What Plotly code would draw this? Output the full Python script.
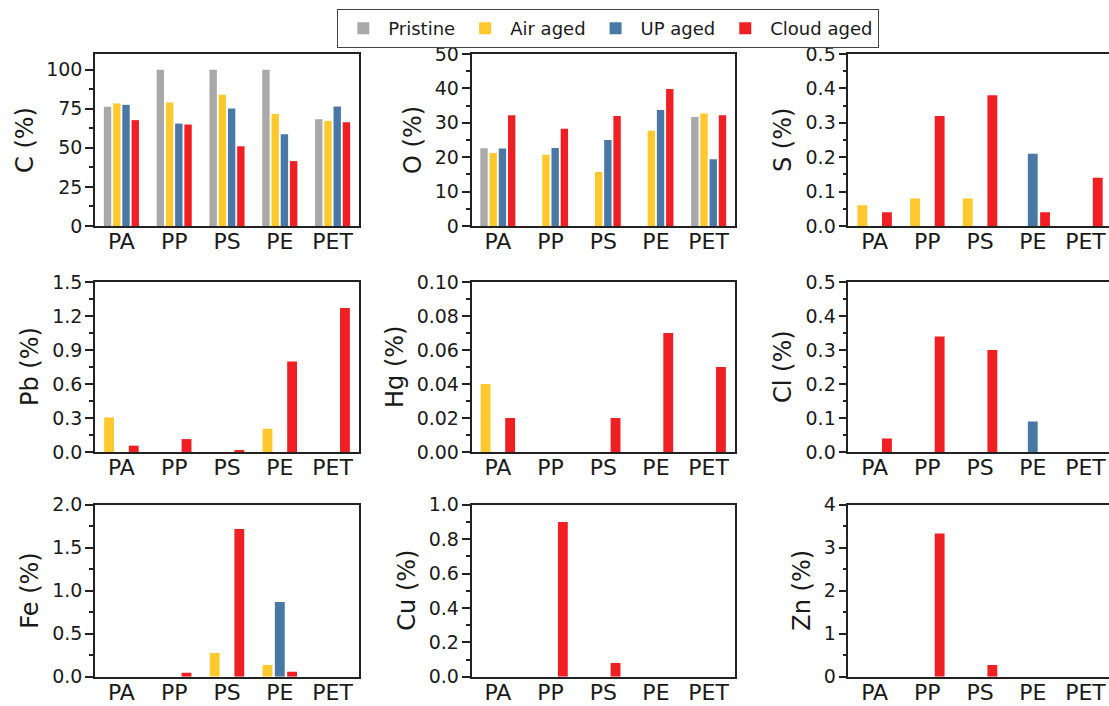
import plotly.graph_objects as go

# ---------------- data ----------------
categories = ["PA", "PP", "PS", "PE", "PET"]
series_names = ["Pristine", "Air aged", "UP aged", "Cloud aged"]
series_colors = ["#A9A9A9", "#FFC92E", "#4A78A6", "#EF1F24"]

# C and O: four series (Pristine, Air, UP, Cloud)
C_pristine = [76.2, 100.0, 100.0, 100.0, 68.3]
C_air = [78.4, 79.0, 83.9, 71.7, 67.2]
C_up = [77.5, 65.5, 75.2, 58.7, 76.4]
C_cloud = [67.7, 64.9, 51.0, 41.5, 66.4]

O_pristine = [22.6, 0, 0, 0, 31.7]
O_air = [21.2, 20.7, 15.7, 27.7, 32.7]
O_up = [22.5, 22.7, 25.0, 33.7, 19.4]
O_cloud = [32.2, 28.3, 32.0, 39.8, 32.2]

# trace elements: three series (Air, UP, Cloud)
S_air = [0.06, 0.08, 0.08, 0, 0]
S_up = [0, 0, 0, 0.21, 0]
S_cloud = [0.04, 0.32, 0.38, 0.04, 0.14]

Pb_air = [0.305, 0, 0, 0.205, 0]
Pb_up = [0, 0, 0, 0, 0]
Pb_cloud = [0.056, 0.114, 0.01, 0.798, 1.27]

Hg_air = [0.04, 0, 0, 0, 0]
Hg_up = [0, 0, 0, 0, 0]
Hg_cloud = [0.02, 0, 0.02, 0.07, 0.05]

Cl_air = [0, 0, 0, 0, 0]
Cl_up = [0, 0, 0, 0.09, 0]
Cl_cloud = [0.04, 0.34, 0.30, 0, 0]

Fe_air = [0, 0, 0.275, 0.136, 0]
Fe_up = [0, 0, 0, 0.868, 0]
Fe_cloud = [0, 0.047, 1.717, 0.058, 0]

Cu_air = [0, 0, 0, 0, 0]
Cu_up = [0, 0, 0, 0, 0]
Cu_cloud = [0, 0.90, 0.08, 0, 0]

Zn_air = [0, 0, 0, 0, 0]
Zn_up = [0, 0, 0, 0, 0]
Zn_cloud = [0, 3.33, 0.27, 0, 0]

panels = [
    ("C (%)", [C_pristine, C_air, C_up, C_cloud], [0, 1, 2, 3], 110, 25, ""),
    ("O (%)", [O_pristine, O_air, O_up, O_cloud], [0, 1, 2, 3], 50, 10, ""),
    ("S (%)", [S_air, S_up, S_cloud], [1, 2, 3], 0.5, 0.1, ".1f"),
    ("Pb (%)", [Pb_air, Pb_up, Pb_cloud], [1, 2, 3], 1.5, 0.3, ".1f"),
    ("Hg (%)", [Hg_air, Hg_up, Hg_cloud], [1, 2, 3], 0.10, 0.02, ".2f"),
    ("Cl (%)", [Cl_air, Cl_up, Cl_cloud], [1, 2, 3], 0.5, 0.1, ".1f"),
    ("Fe (%)", [Fe_air, Fe_up, Fe_cloud], [1, 2, 3], 2.0, 0.5, ".1f"),
    ("Cu (%)", [Cu_air, Cu_up, Cu_cloud], [1, 2, 3], 1.0, 0.2, ".1f"),
    ("Zn (%)", [Zn_air, Zn_up, Zn_cloud], [1, 2, 3], 4, 1, ""),
]

# ---------------- layout geometry ----------------
W, H = 1109, 706
col_px = [(95, 359), (471.5, 735), (848.3, 1109)]
row_px = [(54, 226), (282, 452), (504.7, 676.7)]
title_x_px = [25, 413, 783, 30, 395, 783, 30, 407, 802]

FONT = "DejaVu Sans"
INK = "#1a1a1a"

fig = go.Figure()
layout = dict(
    width=W, height=H, margin=dict(l=0, r=0, t=0, b=0, autoexpand=False),
    paper_bgcolor="white", plot_bgcolor="white",
    barmode="group", bargap=0.3, bargroupgap=0.2,
    font=dict(family=FONT, color=INK),
    showlegend=True,
    legend=dict(
        orientation="h", xref="container", yref="container",
        x=337.3 / W, xanchor="left", y=1 - 9 / H, yanchor="top",
        bordercolor="#444", borderwidth=1, bgcolor="rgba(255,255,255,0)",
        font=dict(size=18, family=FONT, color=INK), itemwidth=40,
        traceorder="normal", tracegroupgap=0,
    ),
    annotations=[],
)

for i, (title, ys, sidx, top, dtick, fmt) in enumerate(panels):
    r, c = divmod(i, 3)
    n = i + 1
    xa = "x" if n == 1 else f"x{n}"
    ya = "y" if n == 1 else f"y{n}"
    for vals, s in zip(ys, sidx):
        fig.add_trace(go.Bar(
            x=categories, y=vals, name=series_names[s],
            marker=dict(color=series_colors[s], line=dict(width=0)),
            xaxis=xa, yaxis=ya, legendgroup=series_names[s],
            showlegend=(i == 0),
        ))
    x0, x1 = col_px[c]
    yt, yb = row_px[r]
    last_col = c == 2
    xr_hi = 4.5 if not last_col else -0.5 + (x1 - x0) / ((735 - 471.5) / 5)
    layout["xaxis" if n == 1 else f"xaxis{n}"] = dict(
        domain=[x0 / W, min(x1 / W, 1.0)], anchor=ya,
        type="category", range=[-0.5, xr_hi],
        showline=True, linecolor="#222", linewidth=1.5, mirror=True,
        ticks="", showgrid=False, zeroline=False, automargin=False,
        ticklabelstandoff=-5,
        tickfont=dict(size=22, family=FONT, color=INK),
    )
    layout["yaxis" if n == 1 else f"yaxis{n}"] = dict(
        domain=[1 - yb / H, 1 - yt / H], anchor=xa,
        range=[0, top], dtick=dtick, tick0=0, tickformat=fmt,
        showline=True, linecolor="#222", linewidth=1.5, mirror=not last_col,
        ticks="outside", ticklen=8, tickwidth=1.5, tickcolor="#222",
        minor=dict(ticks="outside", ticklen=4, tickwidth=1.5, tickcolor="#222",
                   dtick=dtick / 2, tick0=0, showgrid=False),
        showgrid=False, zeroline=False, automargin=False,
        ticklabelstandoff=-1,
        tickfont=dict(size=19, family=FONT, color=INK),
    )
    layout["annotations"].append(dict(
        text=title, xref="paper", yref="paper",
        x=title_x_px[i] / W, y=1 - (yt + yb) / 2 / H,
        xanchor="center", yanchor="middle", textangle=-90, showarrow=False,
        font=dict(size=24, family=FONT, color=INK),
    ))

fig.update_layout(**layout)
fig.write_html("out.html")
